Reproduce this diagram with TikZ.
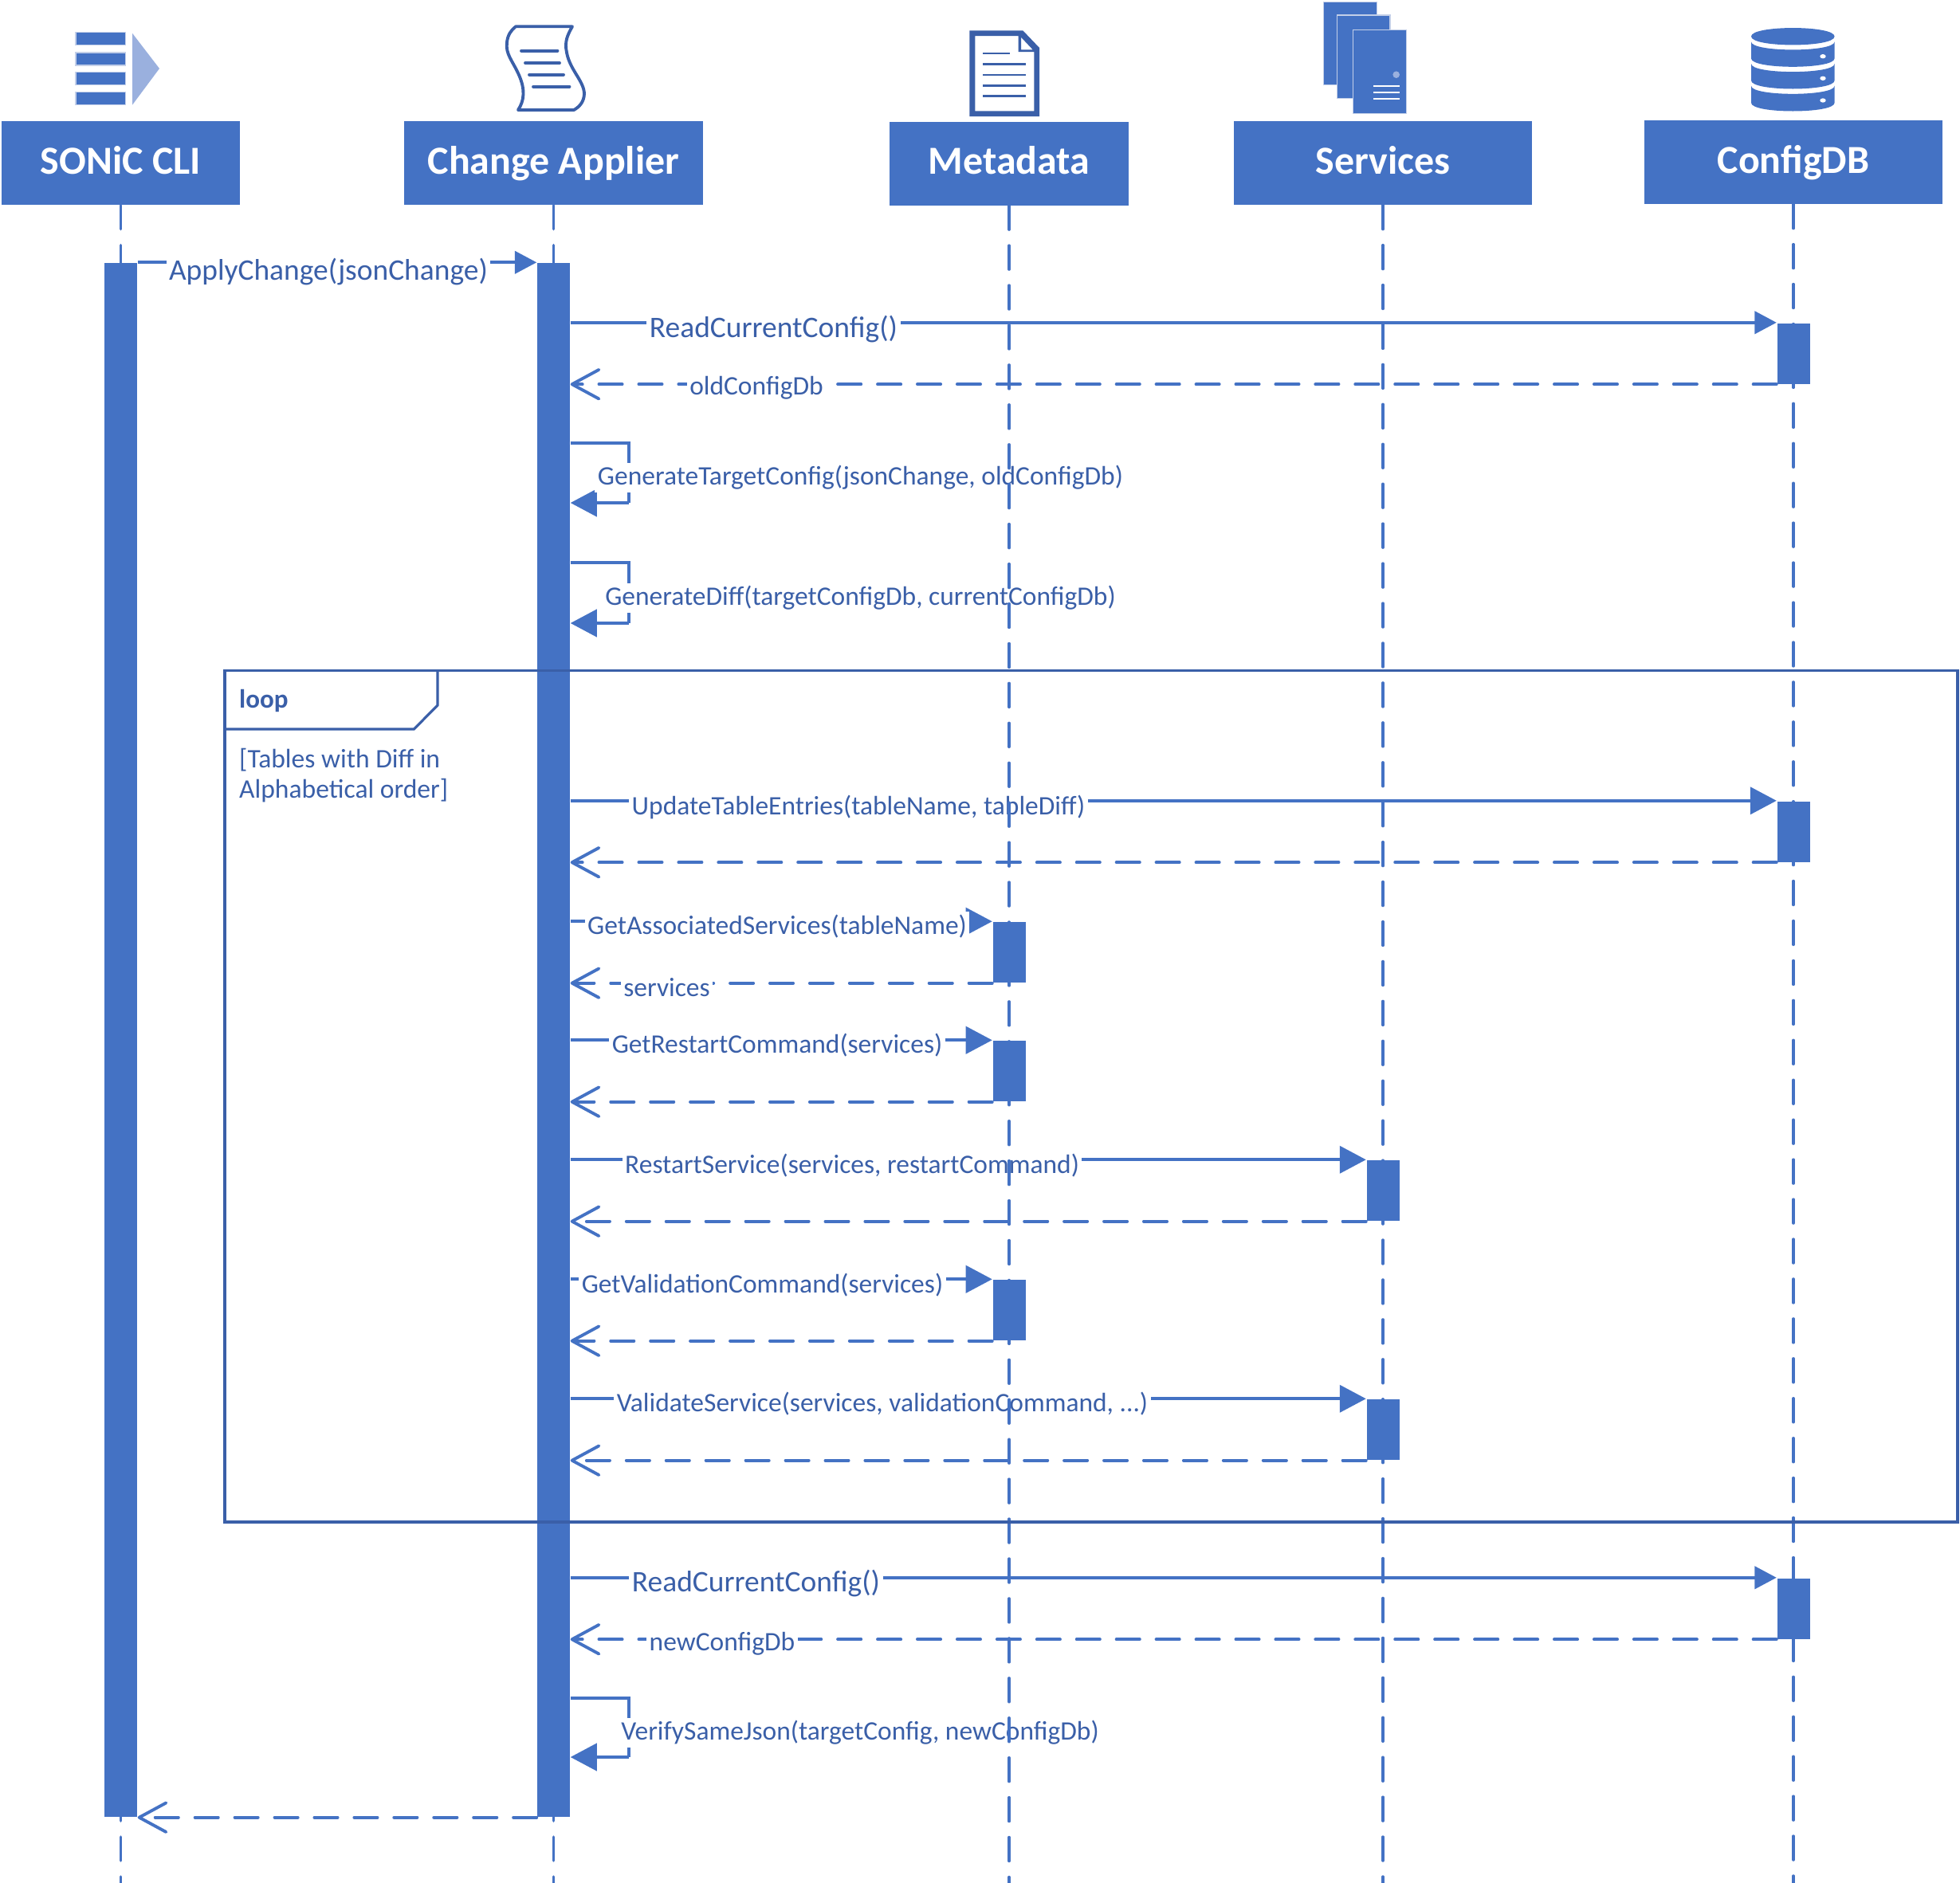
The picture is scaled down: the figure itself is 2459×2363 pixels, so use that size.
\documentclass[tikz,border=0pt]{standalone}
\usepackage{fontspec}
\setmainfont{Carlito}
\usetikzlibrary{arrows.meta}
\definecolor{mainblue}{HTML}{4472C4}
\definecolor{darkblue}{HTML}{3A5FA8}
\definecolor{lightblue}{HTML}{9AB0DE}
\definecolor{edgeblue}{HTML}{C3CFE8}
\pgfdeclarelayer{front}
\pgfsetlayers{main,front}
\tikzset{
  px w/.style={minimum width=#1*0.01cm},
  px h/.style={minimum height=#1*0.01cm},
  header/.style={rectangle,fill=mainblue,text=white,inner sep=0pt,px h=105,text height=9.9pt,text depth=2pt,font=\bfseries\fontsize{14.2}{16}\selectfont},
  actbar/.style={rectangle,fill=mainblue,inner sep=0pt,px w=41,px h=#1},
  lifeline/.style={draw=mainblue,line width=1pt,line cap=round,dash pattern=on 8.5pt off 5.7pt},
  msg/.style={draw=mainblue,line width=1.1pt},
  sync/.style={msg,-{Triangle[length=9.4pt,width=9.7pt]}},
  syncsmall/.style={msg,-{Triangle[length=7.8pt,width=8pt]}},
  reply/.style={msg,line cap=round,dash pattern=on 8.3pt off 5.9pt,-{Straight Barb[length=9.6pt,width=10.4pt,round]}},
  lab/.style={fill=white,text=darkblue,inner sep=1pt,yshift=-0.7pt,font=\fontsize{9.52}{10}\selectfont},
  labbig/.style={lab,font=\fontsize{10.65}{12}\selectfont},
  frametext/.style={text=darkblue,inner sep=0pt,anchor=west,yshift=-0.4pt,font=\fontsize{9.55}{10}\selectfont},
  framebold/.style={frametext,font=\bfseries\fontsize{9.4}{10}\selectfont},
  frameline/.style={draw=darkblue,line width=0.9pt},
  iconbar/.style={fill=mainblue,draw=edgeblue,line width=0.3pt},
  iconline/.style={draw=darkblue,line width=1.1pt,line cap=round},
  docline/.style={draw=darkblue,line width=0.85pt},
  whiteline/.style={draw=white,line width=0.7pt}
}
\begin{document}
\begin{tikzpicture}[x=0.01cm,y=-0.01cm]
\useasboundingbox (0,0) rectangle (2459,2363);
% headers
\node[header,px w=299] (cli) at (151.5,204.5) {SONiC CLI};
\node[header,px w=375] (app) at (694.5,204.5) {Change Applier};
\node[header,px w=300] (meta) at (1266,205) {Metadata};
\node[header,px w=374] (svc) at (1735,204.5) {Services};
\node[header,px w=374] (db) at (2250,203.5) {ConfigDB};
\coordinate (bottom) at (0,2363);
% icons: CLI
\foreach \y in {40.7,66,90.7,115.7}{\path[iconbar] (95,\y) rectangle (157.7,\y+16);}
\path[fill=lightblue] (166,41.7) -- (200,86) -- (166,131.7) -- cycle;
% icons: scroll
\draw[darkblue,line width=1.1pt,line join=round] (647,33.3) -- (718,33.3) .. controls (712,44) and (708,52) .. (711,66) .. controls (715,88) and (733,102) .. (733,118) .. controls (732.5,128) and (727,134) .. (720,138) -- (650,138) .. controls (658,126) and (659,112) .. (651,94) .. controls (643,76) and (634,68) .. (636,53) .. controls (637,44) and (641,38) .. (647,33.3) -- cycle;
\draw[iconline] (654,63.7) -- (699.5,63.7);
\draw[iconline] (659,79) -- (702,79);
\draw[iconline] (664,93.7) -- (707,93.7);
\draw[iconline] (669,108.7) -- (714.5,108.7);
% icons: document
\path[fill=darkblue,even odd rule] (1216.3,38.3) -- (1283.3,38.3) -- (1304,60) -- (1304,146) -- (1216.3,146) -- cycle
  (1223.3,45) -- (1277.7,45) -- (1277.7,65) -- (1297.3,65) -- (1297.3,139.3) -- (1223.3,139.3) -- cycle
  (1281,46.7) -- (1295.7,62.3) -- (1281,62.3) -- cycle;
\draw[docline] (1233.3,67) -- (1267,67);
\foreach \y in {80.7,94,107.3,120.7}{\draw[docline] (1233.3,\y) -- (1287,\y);}
% icons: services
\path[iconbar] (1660.7,2.3) rectangle (1727.3,106.7);
\path[iconbar] (1677.3,19) rectangle (1744,123.7);
\path[iconbar] (1697.7,37.7) rectangle (1764.3,142.3);
\path[fill=lightblue] (1751.7,93.7) circle[radius=4.3];
\foreach \y in {108,116,124}{\draw[whiteline] (1723.3,\y) -- (1756,\y);}
% icons: database
\path[fill=mainblue] (2197,45.7) .. controls (2197,31.5) and (2301.6,31.5) .. (2301.6,45.7) .. controls (2301.6,60) and (2197,60) .. (2197,45.7) -- cycle;
\foreach \y/\z in {52.3/73.3,80/101,107.7/129}{
  \path[fill=mainblue] (2197,\y) .. controls (2197,\y+13.5) and (2301.6,\y+13.5) .. (2301.6,\y) -- (2301.6,\z) .. controls (2301.6,\z+14) and (2197,\z+14) .. (2197,\z) -- cycle;}
\foreach \y in {70.7,98.3,126}{\path[fill=white] (2287,\y) ellipse[x radius=3.7,y radius=2.7];}
% activation bars (front layer, above the lifelines)
\begin{pgfonlayer}{front}
\node[actbar=1950] (cliact) at (151.5,1305) {};
\node[actbar=1950] (appact) at (694.5,1305) {};
\node[actbar=76] (db1) at (2250,443.5) {};
\node[actbar=76] (db2) at (2250,1043.5) {};
\node[actbar=76] (meta1) at (1266,1195) {};
\node[actbar=76] (meta2) at (1266,1344) {};
\node[actbar=76] (svc1) at (1735,1494) {};
\node[actbar=76] (meta3) at (1266,1644) {};
\node[actbar=76] (svc2) at (1735,1794) {};
\node[actbar=76] (db3) at (2250,2018.5) {};
\end{pgfonlayer}
% self-call corners
\coordinate (t1a) at (789,556);
\coordinate (t1b) at (789,631);
\coordinate (t2a) at (789,706);
\coordinate (t2b) at (789,782);
\coordinate (t3a) at (789,2131);
\coordinate (t3b) at (789,2205);
% messages
\draw[syncsmall] (cliact.north east) -- (appact.north west);
\draw[syncsmall] (appact.east |- db1.north west) -- (db1.north west);
\draw[reply] (db1.south west) -- (appact.east |- db1.south west);
\draw[msg] (appact.east |- t1a) -- (t1a) -- (t1b);
\draw[sync] (t1b) -- (appact.east |- t1b);
\draw[msg] (appact.east |- t2a) -- (t2a) -- (t2b);
\draw[sync] (t2b) -- (appact.east |- t2b);
\draw[sync] (appact.east |- db2.north west) -- (db2.north west);
\draw[reply] (db2.south west) -- (appact.east |- db2.south west);
\draw[sync] (appact.east |- meta1.north west) -- (meta1.north west);
\draw[reply] (meta1.south west) -- (appact.east |- meta1.south west);
\draw[sync] (appact.east |- meta2.north west) -- (meta2.north west);
\draw[reply] (meta2.south west) -- (appact.east |- meta2.south west);
\draw[sync] (appact.east |- svc1.north west) -- (svc1.north west);
\draw[reply] (svc1.south west) -- (appact.east |- svc1.south west);
\draw[sync] (appact.east |- meta3.north west) -- (meta3.north west);
\draw[reply] (meta3.south west) -- (appact.east |- meta3.south west);
\draw[sync] (appact.east |- svc2.north west) -- (svc2.north west);
\draw[reply] (svc2.south west) -- (appact.east |- svc2.south west);
\draw[syncsmall] (appact.east |- db3.north west) -- (db3.north west);
\draw[reply] (db3.south west) -- (appact.east |- db3.south west);
\draw[msg] (appact.east |- t3a) -- (t3a) -- (t3b);
\draw[sync] (t3b) -- (appact.east |- t3b);
\draw[reply] (appact.south west) -- (cliact.south east);
% labels
\node[labbig] (m1) at (412,339) {ApplyChange(jsonChange)};
\node[labbig] (m2) at (970.5,411) {ReadCurrentConfig()};
\node[lab] (m3) at (949,484.5) {oldConfigDb};
\node[lab] (m4) at (1079.5,597) {GenerateTargetConfig(jsonChange, oldConfigDb)};
\node[lab] (m5) at (1079.5,748) {GenerateDiff(targetConfigDb, currentConfigDb)};
\node[lab] (m6) at (1077,1010) {UpdateTableEntries(tableName, tableDiff)};
\node[lab] (m7) at (975,1160) {GetAssociatedServices(tableName)};
\node[lab] (m8) at (836.5,1237) {services};
\node[lab] (m9) at (975,1309) {GetRestartCommand(services)};
\node[lab] (m10) at (1069,1460) {RestartService(services, restartCommand)};
\node[lab] (m11) at (956.5,1610) {GetValidationCommand(services)};
\node[lab] (m12) at (1107,1759) {ValidateService(services, validationCommand, ...)};
\node[labbig] (m13) at (948.5,1985) {ReadCurrentConfig()};
\node[lab] (m14) at (906,2060) {newConfigDb};
\node[lab] (m15) at (1079,2172) {VerifySameJson(targetConfig, newConfigDb)};
% lifelines (over the label backgrounds, under the bars)
\draw[lifeline] (cli.south) -- (cli.south |- bottom);
\draw[lifeline] (app.south) -- (app.south |- bottom);
\draw[lifeline] (meta.south) -- (meta.south |- bottom);
\draw[lifeline] (svc.south) -- (svc.south |- bottom);
\draw[lifeline] (db.south) -- (db.south |- bottom);
% loop frame
\begin{pgfonlayer}{front}
\draw[frameline] (282,841.7) rectangle (2456,1910);
\draw[frameline] (549,841.7) -- (549,885) -- (519.4,915) -- (282,915);
\node[framebold] (looplabel) at (299.5,878) {loop};
\node[frametext] (guard1) at (299.5,952) {[Tables with Diff in};
\node[frametext] (guard2) at (299.5,991) {Alphabetical order]};
\end{pgfonlayer}
\end{tikzpicture}
\end{document}
